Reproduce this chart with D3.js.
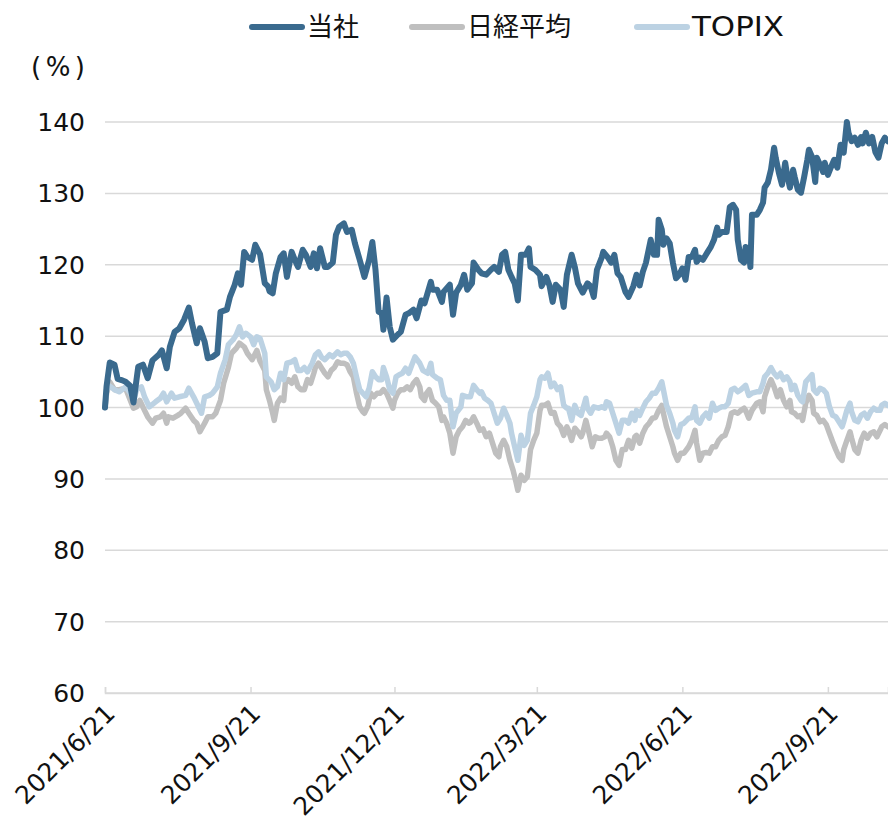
<!DOCTYPE html>
<meta charset="utf-8">
<style>
body { margin: 0; background: #fff; }
svg text { font-family: "DejaVu Sans", sans-serif; fill: #111; }
.grid line { stroke: #d9d9d9; stroke-width: 1.5px; }
.line { fill: none; stroke-linejoin: round; stroke-linecap: round; }
</style>
<svg width="888" height="824"></svg>

<script src="https://d3js.org/d3.v7.min.js"></script>
<script>

// all series are indexed to 100 on 2021/6/21; x values are days after that date
var startDate = new Date(2021, 5, 21);
var lastDay = 495;

var tickLabels = ["2021/6/21", "2021/9/21", "2021/12/21", "2022/3/21", "2022/6/21", "2022/9/21"];
var yTicks = [60, 70, 80, 90, 100, 110, 120, 130, 140];
var seriesNames = ["当社", "日経平均", "TOPIX"];
var seriesColors = ["#3a6a8e", "#bfbfbf", "#bcd2e3"];

var companyDays = [0,1,3,6,8,11,13,16,18,21,24,27,30,34,36,39,41,44,47,50,53,55,58,60,63,65,68,71,73,77,79,82,84,86,88,90,93,95,98,101,103,104,106,108,111,113,115,118,120,122,125,127,130,132,134,136,139,141,144,146,148,151,153,156,158,161,164,167,169,171,173,175,176,178,180,182,185,187,190,192,195,197,200,202,206,207,210,213,214,218,220,222,225,227,229,232,233,236,238,241,244,246,249,251,253,255,257,259,261,263,266,268,269,272,275,276,279,281,283,285,288,290,292,295,297,299,302,305,307,309,311,314,315,318,320,322,324,326,329,331,334,336,338,340,342,345,347,349,350,352,353,355,357,359,361,363,365,367,369,371,373,374,376,378,381,383,385,387,388,390,393,395,397,399,400,402,404,405,407,408,409,412,414,416,417,419,421,423,424,426,428,430,431,433,435,436,438,440,442,444,445,447,449,450,452,454,455,457,459,461,463,465,467,469,470,472,474,476,478,479,481,483,485,487,489,491,493,495];
var companyValues = [100,103,106.3,106,104,103.8,103.6,103,100.7,105.7,106,104.1,106.6,107.4,108,105.5,108.5,110.6,111.1,112.3,114,111.8,109,111.1,109.2,106.9,107.1,107.6,113.4,113.7,115.5,117.2,118.8,117.2,121.8,121.1,120.7,122.8,121.5,117.4,117,116.3,116,118.8,121.1,121.6,118.3,121.8,120.7,119.7,122.1,121.4,119.7,121.6,119.5,122.3,119.7,119.7,120.3,124.2,125.3,125.8,124.6,124.9,123,120.7,118.3,120.7,123.2,119.3,113.4,113.2,110.9,115.4,111.3,109.5,110.2,110.6,113,113.2,113.7,112.5,115,114.6,117.6,116.5,116.5,114.8,116.2,117.2,113,116.1,117.2,118.6,116.5,117.4,120.3,119.3,118.8,118.6,119.3,119.7,119,121.4,121.8,119.3,118.3,117.4,115,121.4,121.4,122.3,119.7,119.3,118.6,117,118.3,117.1,114.8,117.2,116.5,114.1,118.6,121.4,119.7,117.4,116.1,117.4,117,115.5,119.3,121,121.8,121,120.3,121.4,118.8,118.3,116.2,115.5,117,118.6,117.1,119,120.3,123.5,121.4,121.4,126.3,124.9,122.8,123.7,123,120.3,118.1,118.6,119.5,117.9,121.1,121.1,122.1,120.4,121,120.7,121.8,122.5,123.5,125.2,124.2,124.6,124.6,128.1,128.4,127.7,123.5,120.7,120.3,122.5,122.1,119.7,127,127,127.7,128.7,130.8,131.5,133.3,136.4,135,132.9,131.2,134.3,132.9,130.8,133.3,132.3,130.5,130.1,132.3,134.7,136.1,135.1,131.6,135,134,133,134.3,132.6,133.7,134.7,133.6,136.8,135.7,140,138.5,137.3,137.8,136.8,137.9,137,138.5,137,137.9,135.8,135,137,137.8,137.3];

var nikkeiDays = [0,1,3,6,9,13,16,18,20,22,25,27,30,32,35,37,39,40,43,46,48,51,53,56,58,60,63,65,68,70,73,75,78,80,83,85,88,90,93,96,98,101,102,104,106,107,109,111,113,114,116,118,120,122,124,126,128,130,132,133,135,137,139,141,143,145,147,149,151,153,155,157,159,161,163,164,166,168,170,172,174,176,178,180,182,183,185,187,189,191,193,195,197,199,200,202,203,205,207,209,211,213,214,216,218,220,222,224,226,228,230,231,233,235,237,239,241,243,245,247,249,250,252,254,256,258,260,261,263,265,267,269,271,273,275,276,278,280,282,284,286,288,290,292,293,295,297,299,301,302,304,306,308,310,312,314,316,317,319,321,323,325,327,329,331,333,335,336,338,340,342,344,346,348,350,352,353,355,357,359,360,362,364,366,369,371,373,374,376,378,380,382,384,386,388,390,392,394,396,398,400,402,404,405,407,409,412,414,416,417,419,421,423,425,427,429,431,433,434,436,438,440,441,443,445,447,448,450,452,454,456,458,460,462,464,466,467,469,471,472,474,476,478,480,482,484,486,488,490,491,493,495];
var nikkeiValues = [100,102,103.6,102.5,102.5,102.7,101,99.9,100.1,101,99.6,98.7,97.8,98.5,98.7,99.2,97.8,98.7,98.5,98.9,99.2,99.9,99.2,98.2,97.8,96.6,97.8,98.7,98.7,99.2,101,103.4,105.6,107.6,108.3,109,108.5,107.6,106.7,108,106.5,105.2,102.5,101,99.2,98.2,100.6,101.3,101,103.4,103.9,103.4,104.3,102.9,102.5,102.5,103.9,103.4,104.8,105.6,106.2,105.5,104.8,104.3,105.2,105.6,106.4,106.2,106.2,106,105,104.3,102,100.1,99.4,99.2,100.1,102,101.5,102,102,102.5,102,101,99.9,101,102,102.5,102.5,102.9,102.5,103.4,103.9,102.9,101.5,101,101.9,102.5,101,100.6,100.1,98.2,98.7,97.8,96.4,93.6,95.9,96.8,97.3,98.2,97.8,97.9,98.7,97.8,96.8,97,95.9,96.4,95,93.6,93.1,94.5,95.4,94.5,92.6,91.2,89.4,88.4,90.5,89.8,90.3,94.1,95.4,96.4,99.6,100.3,100.3,100.6,99.2,99.3,97.8,97.3,96.1,97.3,96.8,95.4,97.1,96.6,95.9,96.4,98.2,96.4,94.5,95.9,95.7,95.7,95.9,96.4,95.9,94.5,92.6,91.9,94.1,94.1,95.4,94.3,95.9,96.1,95,96.4,97.3,97.8,98.5,98.6,99.6,100.3,99.2,97.3,95.9,94.5,93.6,92.6,93.6,93.6,94.5,95.4,96.8,95,92.6,93.6,93.7,93.6,94.5,94.5,95.4,95.9,96.1,97.3,99.2,99.4,99.2,99.6,99.9,99.6,98.5,99.6,100.6,100.8,99.4,101.5,102.9,103.9,102.9,101.5,102.5,101,100.1,101,99.4,99.2,98.7,98.9,98.2,100.6,101.7,101,99.2,98.9,98,98.2,97.6,96.4,95.2,94.1,93.1,92.6,94.1,95.4,96.6,95.7,94.1,93.6,95.4,96.4,95.7,96.4,96.6,95.9,96.8,97.3,97.6,97.3];

var topixDays = [0,1,3,6,9,13,16,18,20,23,25,28,32,35,37,39,42,44,47,51,53,56,58,61,63,66,68,71,73,76,78,81,83,85,87,89,92,94,96,98,101,102,105,107,109,111,113,115,118,120,122,124,126,128,131,133,135,137,139,142,144,147,149,151,153,155,157,159,161,163,165,167,169,171,173,175,176,178,180,182,184,186,188,190,192,194,196,199,201,204,206,207,210,212,214,216,218,220,222,225,226,229,231,233,235,237,238,240,242,244,246,248,250,252,254,256,257,259,261,263,265,267,269,271,273,275,276,278,280,282,284,286,288,290,292,293,295,297,299,301,304,305,307,309,312,314,316,317,319,321,323,325,327,329,331,333,335,336,338,340,342,344,346,348,350,352,353,355,357,359,360,362,364,366,369,371,373,374,376,378,380,382,384,386,388,390,392,394,396,398,400,402,404,405,407,409,412,414,416,417,419,421,423,425,427,429,431,433,434,436,438,440,441,443,445,447,448,450,452,454,456,458,460,462,464,466,467,469,471,472,474,476,478,480,482,484,486,488,490,491,493,495];
var topixValues = [100,102.5,103,102.5,102.2,102.9,102,101,102.5,102.9,101.5,100.1,100.8,101.3,102,100.8,102,101.3,101.5,101.7,102.7,101.5,100.6,99.2,101.5,101.7,102,102.9,104.8,106.7,108.8,109.5,110.2,111.3,109.9,110.4,109.9,108.8,109.9,109.7,107.6,104.3,103.6,102.5,102.9,104.8,103.9,106.2,106.4,106.7,105.2,105.2,105.6,105,106.2,107.4,107.8,107,106.7,107.4,107.1,107.8,107.4,107.6,107.6,107.1,106.2,104.3,102.5,102,101.5,102.7,105,104.3,103.9,103.9,105.6,104.3,102.5,102,104.3,104.6,104.8,105.5,104.8,106,107.1,106.2,105.2,104.8,106.2,104.6,104.1,103.9,101.7,101,101,97.3,99.2,100.1,101.7,101.5,101.5,103.1,102.5,102,102.2,101.3,101,100.6,99.2,97.8,98.5,99.9,98.9,97.8,96.4,94.5,92.6,96.1,94.7,95.4,99.2,100.3,101.5,103.9,104.3,104.1,104.8,102.9,103.4,102.5,102.9,100.3,99.9,99.9,98.2,100.3,99.2,98.9,101.3,99.9,99.2,100.1,99.9,100.1,99.9,100.8,100.6,99.2,97.8,96.4,98.2,98.2,97.8,99.2,98.2,99.6,98.9,99.9,100.8,101.3,102,102,102.7,103.6,102.5,100.3,99.2,97.8,96.8,95.9,97.6,97.8,98.5,98.6,100.1,98.2,97.8,98.7,99.2,98.5,100.6,99.6,99.9,100.1,100.1,100.6,102.5,102.7,102.2,102.5,102.9,103.1,101.7,102,102.2,102.2,103.4,104.3,104.8,105.6,104.8,104.3,104.8,103.9,104.3,103.6,102.5,103.1,101.7,101,100.8,103.6,104.1,104.6,102.5,102,102.7,102.5,102,100.1,98.9,98.7,98,97.3,98,99.6,100.6,99.4,98.2,98,98.9,99.2,98.5,99.4,99.9,99.6,99.6,100.3,100.6,100.3];

var svg = d3.select("svg");

var x = d3.scaleTime()
    .domain([startDate, d3.timeDay.offset(startDate, lastDay)])
    .range([105, 888]);

var y = d3.scaleLinear()
    .domain([60, 140])
    .range([693, 122]);

var parseLabel = d3.timeParse("%Y/%m/%d");
var tickDates = tickLabels.map(function(s) { return parseLabel(s); });

// horizontal gridlines
svg.append("g")
    .attr("class", "grid")
  .selectAll("line")
  .data(yTicks)
  .enter().append("line")
    .attr("x1", 105)
    .attr("x2", 888)
    .attr("y1", function(d) { return y(d); })
    .attr("y2", function(d) { return y(d); });

// y axis labels
svg.append("g")
  .selectAll("text")
  .data(yTicks)
  .enter().append("text")
    .attr("x", 85)
    .attr("y", function(d) { return y(d); })
    .attr("dy", "0.36em")
    .attr("text-anchor", "end")
    .style("font-size", "25px")
    .text(function(d) { return d; });

// x axis
var xAxis = d3.axisBottom(x)
    .tickValues(tickDates)
    .tickSize(-6)
    .tickFormat(function(d, i) { return tickLabels[i]; });

var gx = svg.append("g")
    .attr("transform", "translate(0,693)")
    .call(xAxis);

gx.select(".domain").attr("stroke", "#d9d9d9").attr("stroke-width", 1.5);
gx.selectAll(".tick line").attr("stroke", "#d9d9d9").attr("stroke-width", 1.5);
gx.selectAll(".tick text")
    .style("font-size", "25px")
    .attr("fill", "#111")
    .attr("text-anchor", "end")
    .attr("y", 0)
    .attr("dy", 0)
    .attr("transform", "translate(11,22) rotate(-45)");

// unit label
svg.append("text")
    .attr("x", 31)
    .attr("y", 76)
    .style("font-size", "26px")
    .attr("textLength", 54)
    .attr("lengthAdjust", "spacing")
    .text("(%)");

function makeSeries(days, values) {
  return days.map(function(d, i) {
    return { date: d3.timeDay.offset(startDate, d), value: values[i] };
  });
}

var series = [
  { name: seriesNames[1], color: seriesColors[1], width: 5.5, data: makeSeries(nikkeiDays, nikkeiValues) },
  { name: seriesNames[2], color: seriesColors[2], width: 5.5, data: makeSeries(topixDays, topixValues) },
  { name: seriesNames[0], color: seriesColors[0], width: 6, data: makeSeries(companyDays, companyValues) }
];

var line = d3.line()
    .x(function(d) { return x(d.date); })
    .y(function(d) { return y(d.value); });

svg.append("g")
  .selectAll("path")
  .data(series)
  .enter().append("path")
    .attr("class", "line")
    .attr("stroke", function(d) { return d.color; })
    .attr("stroke-width", function(d) { return d.width; })
    .attr("d", function(d) { return line(d.data); });

// legend
var legendX = [250, 410, 635];
var legend = svg.append("g")
  .selectAll("g")
  .data(seriesNames)
  .enter().append("g")
    .attr("transform", function(d, i) { return "translate(" + legendX[i] + ",27)"; });

legend.append("line")
    .attr("x1", 2)
    .attr("x2", 52)
    .attr("stroke", function(d, i) { return seriesColors[i]; })
    .attr("stroke-width", 6)
    .attr("stroke-linecap", "round");

legend.append("text")
    .attr("x", 57)
    .attr("dy", "0.36em")
    .style("font-family", function(d, i) { return i == 2 ? "'DejaVu Sans', sans-serif" : "'Noto Sans CJK JP', sans-serif"; })
    .style("font-size", "26px")
    .attr("textLength", function(d, i) { return i == 2 ? 92 : null; })
    .attr("lengthAdjust", "spacingAndGlyphs")
    .text(function(d) { return d; });

</script>
